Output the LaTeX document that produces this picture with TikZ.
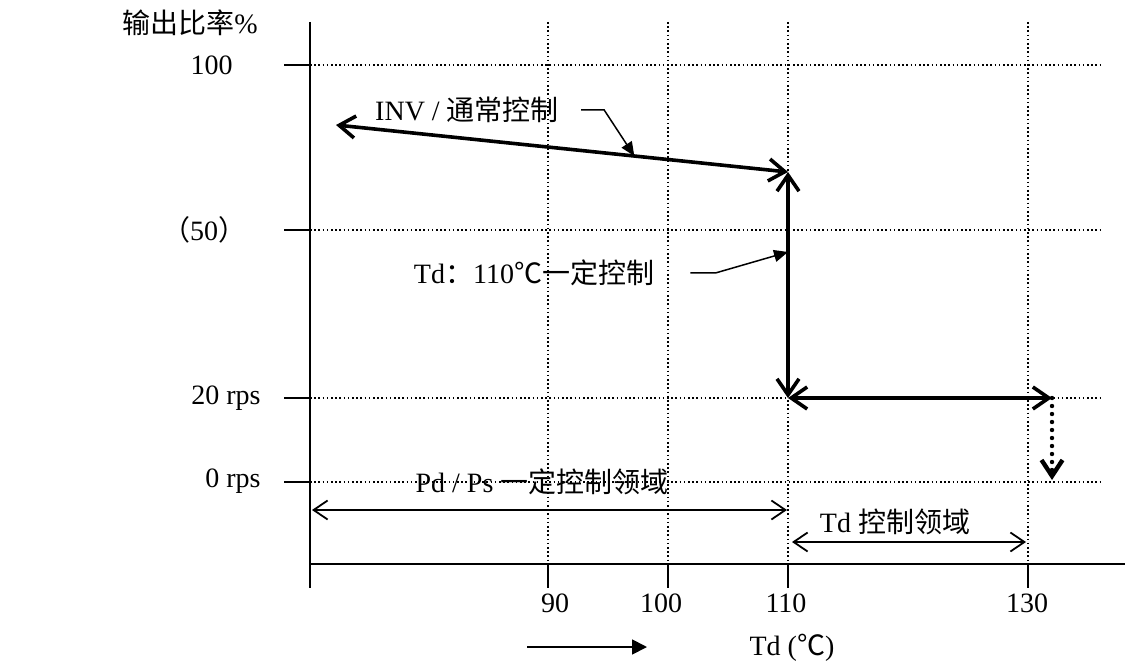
\documentclass[tikz,border=0pt]{standalone}
\usepackage{fontspec}
\setmainfont{Liberation Serif}
\newfontfamily\cjk{Noto Sans CJK SC}
\usepackage{tikz}
\usetikzlibrary{arrows.meta, positioning}

\newcommand{\zh}[1]{{\cjk #1}}

\begin{document}
\begin{tikzpicture}[x=0.5pt, y=-0.5pt,
        every node/.style={font=\fontsize{14}{16}\selectfont, inner sep=0pt},
        dotgrid/.style={line width=0.8pt, dash pattern=on 0.8pt off 1.3pt},
        axisline/.style={line width=0.8pt},
        flowline/.style={line width=1.8pt, {Straight Barb[length=8pt,width=11pt]}-{Straight Barb[length=8pt,width=11pt]}},
        dotarrow/.style={line width=2.2pt, line cap=round, dash pattern=on 0pt off 4pt, -{Straight Barb[length=8pt,width=10.5pt]}},
        zone/.style={line width=0.9pt, {Straight Barb[length=7pt,width=9.5pt]}-{Straight Barb[length=7pt,width=9.5pt]}},
        callout/.style={line width=0.75pt, -{Triangle[length=7pt,width=6pt]}}]

            \path[use as bounding box, fill=white] (0,0) rectangle (1144,662);

            % grid
            \foreach \y in {65,230,398,482}
                \draw[dotgrid] (310,\y) -- (1100,\y);
            \foreach \x in {548,668,788,1028}
                \draw[dotgrid] (\x,22) -- (\x,564);

            % axes
            \draw[axisline] (310,22) -- (310,588);
            \draw[axisline] (310,564) -- (1125,564);
            \foreach \y in {65,230,398,482}
                \draw[axisline] (284,\y) -- (310,\y);
            \foreach \x in {548,668,788,1028}
                \draw[axisline] (\x,564) -- (\x,588);

            \node (yname) at (190,23) {\zh{输出比率}\%};
            \node[anchor=east] (y100) at (233,65) {100};
            \node (y50) at (204,230) {\zh{（}50\zh{）}};
            \node[anchor=east] (y20) at (261,398) {20 rps};
            \node[anchor=east] (y0) at (261,481) {0 rps};
            \foreach \x/\t in {555/90, 661/100, 786/110, 1027/130}
                \node (xl\t) at (\x,603) {\t};

            % control path
            \coordinate (inv-l) at (336,125);
            \coordinate (inv-r) at (788,172);
            \coordinate (td-l) at (788,398);
            \coordinate (td-r) at (1052,398);
            \coordinate (stop) at (1052,480);

            \draw[flowline] (inv-l) -- coordinate[pos=0.66] (inv-m) (inv-r);
            \draw[flowline] (td-l) -- coordinate[pos=0.646] (td-m) (inv-r);
            \draw[flowline] (td-l) -- (td-r);
            \draw[dotarrow] (td-r) -- (stop);

            \node (invlabel) at (467,110) {INV / \zh{通常控制}};
            \draw[callout] ([xshift=11pt]invlabel.east) -- ++(23,0) -- (inv-m);

            \node (tdlabel) at (534,273) {Td\zh{：}110\zh{℃一定控制}};
            \draw[callout] ([xshift=18pt]tdlabel.east) -- ++(25,0) -- (td-m);

            % regions
            \coordinate (pd-l) at (312,510);
            \coordinate (pd-r) at (787,510);
            \coordinate (tz-l) at (792,542);
            \coordinate (tz-r) at (1026,542);

            \node (pdlabel) at (542,482) {Pd / Ps \zh{一定控制领域}};
            \draw[zone] (pd-l) -- (pd-r);
            \node (tzlabel) at (895,522) {Td \zh{控制领域}};
            \draw[zone] (tz-l) -- (tz-r);

            \coordinate (dir-a) at (527,647);
            \coordinate (dir-b) at (647,647);
            \draw[line width=0.9pt, -{Triangle[length=7.5pt,width=7.5pt]}] (dir-a) -- (dir-b);
            \node (xname) at (792,648) {Td (\zh{℃})};
        \end{tikzpicture}
\end{document}
